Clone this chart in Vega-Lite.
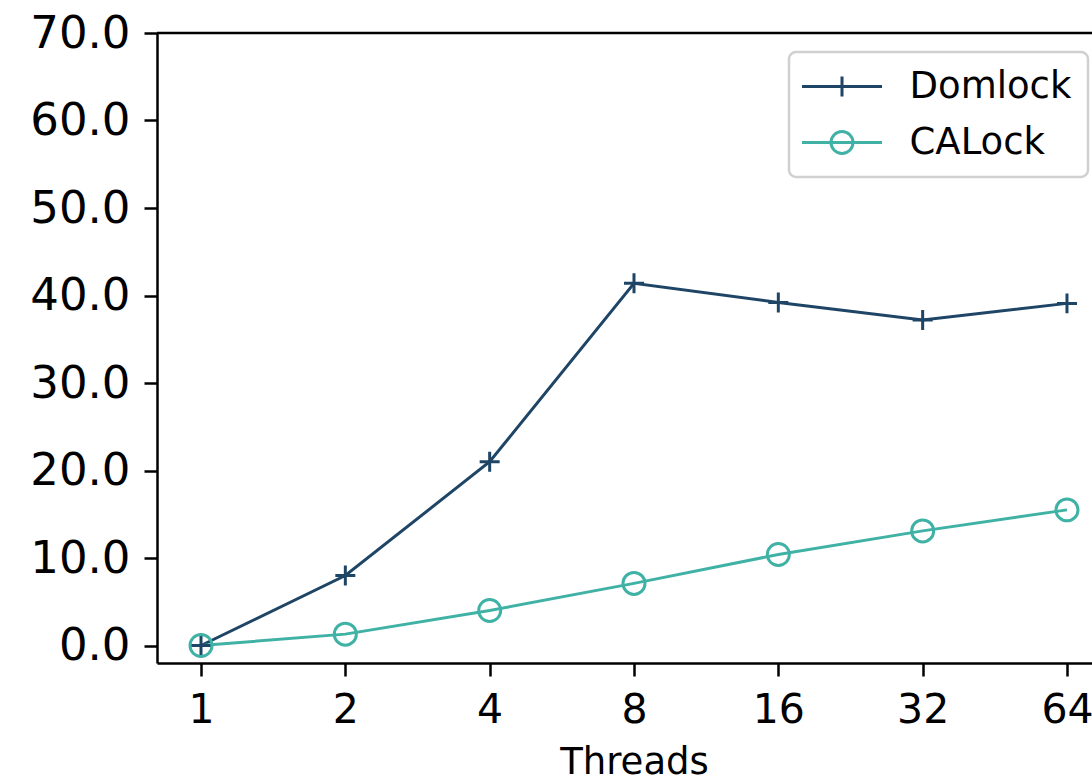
{
  "$schema": "https://vega.github.io/schema/vega-lite/v6.json",
  "autosize": "none",
  "padding": {"left": 157, "top": 33, "right": 0, "bottom": 118},
  "width": 935,
  "height": 630,
  "background": "white",
  "config": {
    "font": "DejaVu Sans",
    "view": {"stroke": null},
    "axis": {
      "domainColor": "black",
      "domainWidth": 2.5,
      "tickColor": "black",
      "tickWidth": 2.5,
      "tickSize": 13,
      "labelColor": "black",
      "labelFont": "DejaVu Sans",
      "labelFontSize": 45,
      "grid": false,
      "titleFont": "DejaVu Sans",
      "titleFontWeight": "normal",
      "titleColor": "black",
      "titleFontSize": 37
    }
  },
  "datasets": {
    "main": [
      {"threads": 1, "series": "Domlock", "value": 0.0},
      {"threads": 2, "series": "Domlock", "value": 8.0},
      {"threads": 4, "series": "Domlock", "value": 21.0},
      {"threads": 8, "series": "Domlock", "value": 41.4},
      {"threads": 16, "series": "Domlock", "value": 39.2},
      {"threads": 32, "series": "Domlock", "value": 37.2},
      {"threads": 64, "series": "Domlock", "value": 39.1},
      {"threads": 1, "series": "CALock", "value": 0.0},
      {"threads": 2, "series": "CALock", "value": 1.3},
      {"threads": 4, "series": "CALock", "value": 4.0},
      {"threads": 8, "series": "CALock", "value": 7.1},
      {"threads": 16, "series": "CALock", "value": 10.4},
      {"threads": 32, "series": "CALock", "value": 13.1},
      {"threads": 64, "series": "CALock", "value": 15.5}
    ],
    "top": [{"y": 70}]
  },
  "layer": [
    {
      "data": {"name": "main"},
      "mark": {"type": "line", "strokeWidth": 3},
      "encoding": {
        "x": {
          "field": "threads",
          "type": "quantitative",
          "scale": {"type": "log", "base": 2, "domain": [0.8095, 72.17], "nice": false},
          "axis": {
            "values": [1, 2, 4, 8, 16, 32, 64],
            "format": "d",
            "title": "Threads",
            "labelPadding": 14,
            "titlePadding": 14,
            "titleX": 477,
            "titleAlign": "center",
            "labelFontSize": 41
          }
        },
        "y": {
          "field": "value",
          "type": "quantitative",
          "scale": {"domain": [-2, 70], "nice": false, "zero": false},
          "axis": {
            "values": [0, 10, 20, 30, 40, 50, 60, 70],
            "format": ".1f",
            "title": null,
            "labelPadding": 14
          }
        },
        "color": {
          "field": "series",
          "type": "nominal",
          "scale": {"domain": ["Domlock", "CALock"], "range": ["#1f4566", "#40b2a5"]},
          "legend": {
            "title": null,
            "orient": "none",
            "legendX": 632,
            "legendY": 19,
            "padding": 16,
            "fillColor": "white",
            "strokeColor": "#d0d0d0",
            "cornerRadius": 7,
            "labelFontSize": 37,
            "labelColor": "black",
            "labelFont": "DejaVu Sans",
            "labelLimit": 400,
            "symbolSize": 484,
            "symbolStrokeWidth": 3,
            "symbolOffset": 18.5,
            "labelOffset": 49,
            "rowPadding": 18,
            "encode": {
              "legend": {"update": {"strokeWidth": {"value": 2.5}}},
              "symbols": {
                "update": {
                  "shape": {"signal": "datum.value === 'Domlock' ? 'M-3.636,0H3.636M0,-0.909V0.909' : 'M-3.636,0H3.636M-1,0A1,1,0,1,1,1,0A1,1,0,1,1,-1,0'"},
                  "fill": {"value": "transparent"},
                  "strokeWidth": {"value": 3}
                }
              }
            }
          }
        }
      }
    },
    {
      "data": {"name": "main"},
      "transform": [{"filter": "datum.series === 'Domlock'"}],
      "mark": {"type": "point", "filled": false, "strokeWidth": 3, "size": 484, "opacity": 1, "shape": "M-0.909,0H0.909M0,-0.909V0.909"},
      "encoding": {
        "x": {"field": "threads", "type": "quantitative"},
        "y": {"field": "value", "type": "quantitative"},
        "color": {"field": "series", "type": "nominal"}
      }
    },
    {
      "data": {"name": "main"},
      "transform": [{"filter": "datum.series === 'CALock'"}],
      "mark": {"type": "point", "filled": false, "strokeWidth": 3, "size": 484, "opacity": 1, "shape": "M-1,0A1,1,0,1,1,1,0A1,1,0,1,1,-1,0"},
      "encoding": {
        "x": {"field": "threads", "type": "quantitative"},
        "y": {"field": "value", "type": "quantitative"},
        "color": {"field": "series", "type": "nominal"}
      }
    },
    {
      "data": {"name": "top"},
      "mark": {"type": "rule", "color": "black", "strokeWidth": 2.5},
      "encoding": {"y": {"field": "y", "type": "quantitative"}}
    }
  ]
}
